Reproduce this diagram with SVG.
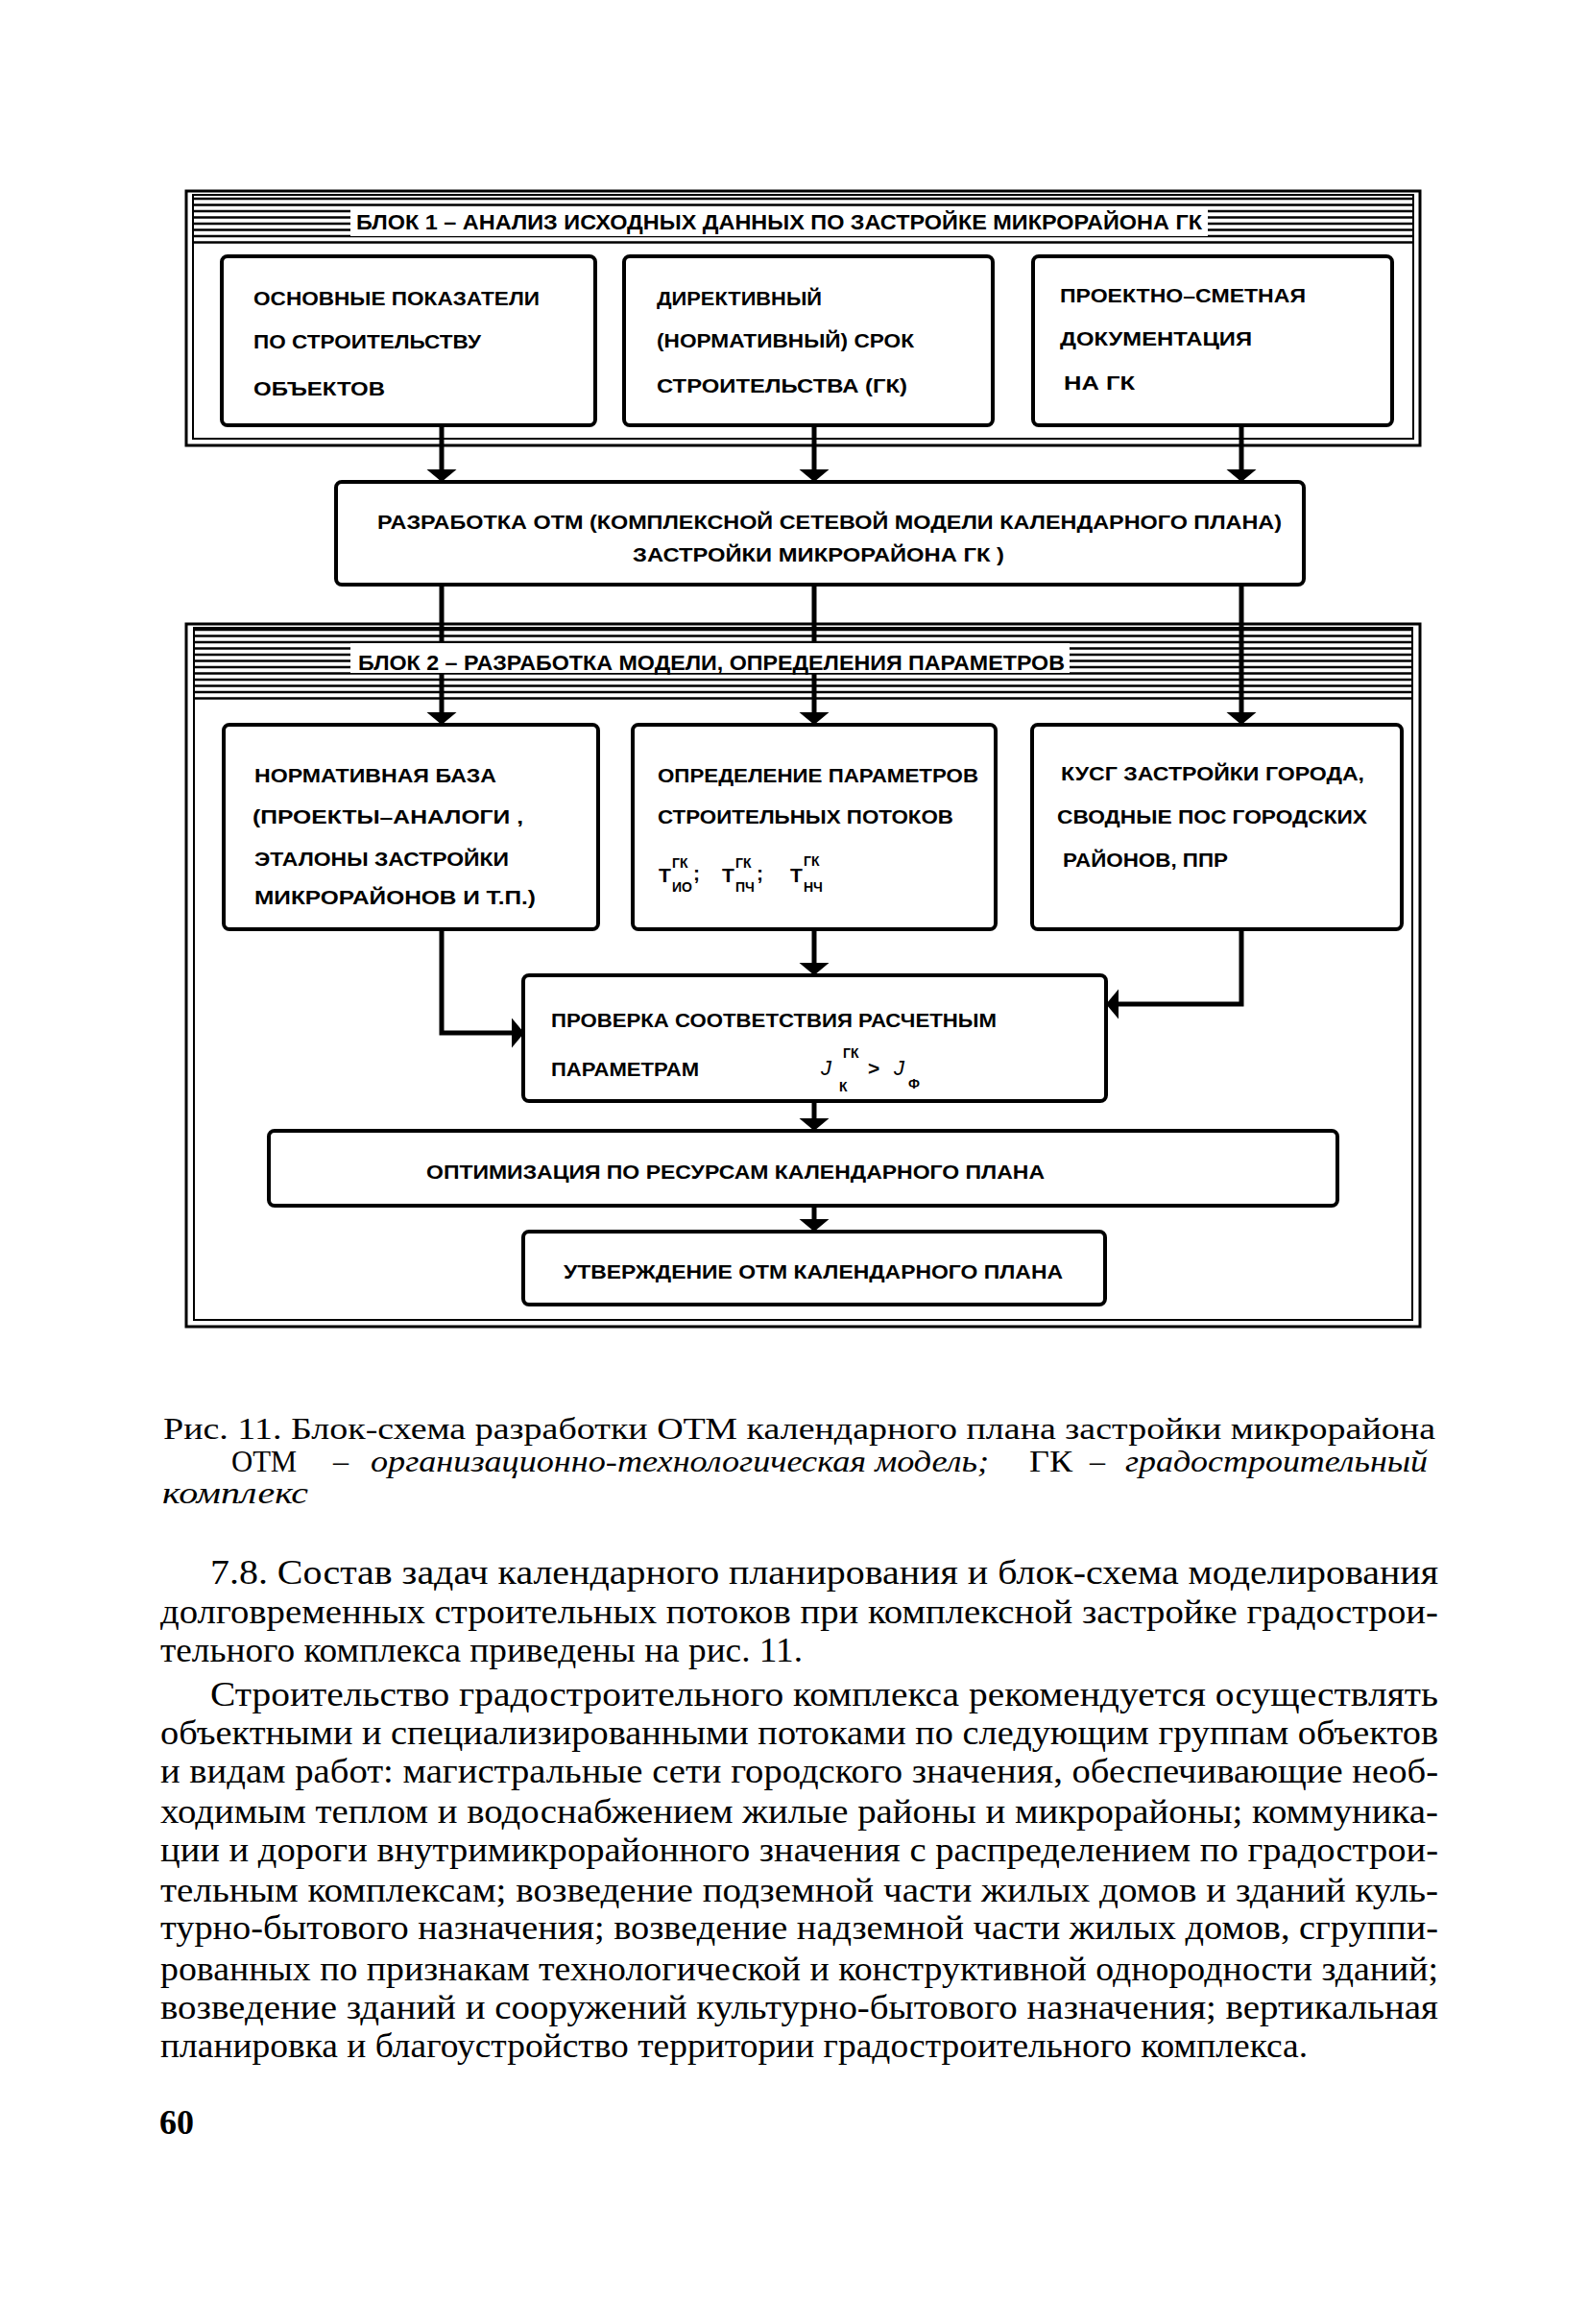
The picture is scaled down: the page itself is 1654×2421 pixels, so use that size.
<svg xmlns="http://www.w3.org/2000/svg" width="1654" height="2421" viewBox="0 0 1654 2421">
<style>
.bg{fill:#fff}
.frame{fill:none;stroke:#000;stroke-width:3}
.frame2{fill:none;stroke:#000;stroke-width:2}
.hatch line{stroke:#000;stroke-width:2.6}
.box{fill:#fff;stroke:#000;stroke-width:4}
.conn{fill:none;stroke:#000;stroke-width:5}
.t{font-family:"Liberation Sans",Arial,sans-serif;font-weight:bold;font-size:21px;fill:#000}
.hd{font-family:"Liberation Sans",Arial,sans-serif;font-weight:bold;font-size:22px;fill:#000}
.sm{font-family:"Liberation Sans",Arial,sans-serif;font-weight:bold;font-size:14px;fill:#000}
.mi{font-family:"Liberation Sans",Arial,sans-serif;font-style:italic;font-size:22px;fill:#000}
.body{font-family:"Liberation Serif","Times New Roman",serif;font-size:35px;fill:#000}
.cap{font-family:"Liberation Serif","Times New Roman",serif;font-size:32px;fill:#000}
.it{font-style:italic}
.pg{font-family:"Liberation Serif","Times New Roman",serif;font-size:36px;font-weight:bold;fill:#000}
</style>
<defs>
<marker id="arr" markerUnits="userSpaceOnUse" markerWidth="14" markerHeight="32" refX="10" refY="15.5" orient="auto">
<path d="M0,0 L13,15.5 L0,31 Z" fill="#000"/>
</marker>
</defs>
<rect class="bg" x="0" y="0" width="1654" height="2421"/>

<g id="block1-frame">
<rect class="frame" x="194" y="199" width="1285" height="265"/>
<rect class="frame2" x="201" y="203" width="1271" height="254"/>
<g class="hatch">
<line x1="202" y1="207" x2="1471" y2="207"/>
<line x1="202" y1="213.5" x2="1471" y2="213.5"/>
<line x1="202" y1="220" x2="1471" y2="220"/>
<line x1="202" y1="226.5" x2="1471" y2="226.5"/>
<line x1="202" y1="233" x2="1471" y2="233"/>
<line x1="202" y1="239.5" x2="1471" y2="239.5"/>
<line x1="202" y1="246" x2="1471" y2="246"/>
<line x1="202" y1="252.5" x2="1471" y2="252.5"/>
</g>
</g>

<g id="block2-frame">
<rect class="frame" x="194" y="650" width="1285" height="732"/>
<rect class="frame2" x="202" y="654" width="1269" height="721"/>
<g class="hatch">
<line x1="202" y1="656" x2="1471" y2="656"/>
<line x1="202" y1="662.5" x2="1471" y2="662.5"/>
<line x1="202" y1="669" x2="1471" y2="669"/>
<line x1="202" y1="675.5" x2="1471" y2="675.5"/>
<line x1="202" y1="682" x2="1471" y2="682"/>
<line x1="202" y1="688.5" x2="1471" y2="688.5"/>
<line x1="202" y1="695" x2="1471" y2="695"/>
<line x1="202" y1="701.5" x2="1471" y2="701.5"/>
<line x1="202" y1="708" x2="1471" y2="708"/>
<line x1="202" y1="714.5" x2="1471" y2="714.5"/>
<line x1="202" y1="721" x2="1471" y2="721"/>
<line x1="202" y1="727.5" x2="1471" y2="727.5"/>
</g>
</g>

<g id="connectors">
<path class="conn" d="M460,443 V499" marker-end="url(#arr)"/>
<path class="conn" d="M848,443 V499" marker-end="url(#arr)"/>
<path class="conn" d="M1293,443 V499" marker-end="url(#arr)"/>
<path class="conn" d="M460,609 V752" marker-end="url(#arr)"/>
<path class="conn" d="M848,609 V752" marker-end="url(#arr)"/>
<path class="conn" d="M1293,609 V752" marker-end="url(#arr)"/>
<path class="conn" d="M460,968 V1076 H543" marker-end="url(#arr)"/>
<path class="conn" d="M848,968 V1013" marker-end="url(#arr)"/>
<path class="conn" d="M1293,968 V1046 H1155" marker-end="url(#arr)"/>
<path class="conn" d="M848,1147 V1175" marker-end="url(#arr)"/>
<path class="conn" d="M848,1256 V1280" marker-end="url(#arr)"/>
</g>

<g id="header1">
<rect class="bg" x="365" y="217" width="893" height="29"/>
<text class="hd" x="371" y="239" textLength="881" lengthAdjust="spacingAndGlyphs">БЛОК 1 – АНАЛИЗ ИСХОДНЫХ ДАННЫХ ПО ЗАСТРОЙКЕ МИКРОРАЙОНА ГК</text>
</g>

<g id="header2">
<rect class="bg" x="365" y="670" width="749" height="31"/>
<text class="hd" x="373" y="698" textLength="736" lengthAdjust="spacingAndGlyphs">БЛОК 2 – РАЗРАБОТКА МОДЕЛИ, ОПРЕДЕЛЕНИЯ ПАРАМЕТРОВ</text>
</g>

<g id="box-a">
<rect class="box" x="231" y="267" width="389" height="176" rx="6"/>
<text class="t" x="264" y="318" textLength="298" lengthAdjust="spacingAndGlyphs">ОСНОВНЫЕ ПОКАЗАТЕЛИ</text>
<text class="t" x="264" y="363" textLength="237" lengthAdjust="spacingAndGlyphs">ПО СТРОИТЕЛЬСТВУ</text>
<text class="t" x="264" y="412" textLength="137" lengthAdjust="spacingAndGlyphs">ОБЪЕКТОВ</text>
</g>

<g id="box-b">
<rect class="box" x="650" y="267" width="384" height="176" rx="6"/>
<text class="t" x="684" y="318" textLength="172" lengthAdjust="spacingAndGlyphs">ДИРЕКТИВНЫЙ</text>
<text class="t" x="684" y="362" textLength="268" lengthAdjust="spacingAndGlyphs">(НОРМАТИВНЫЙ) СРОК</text>
<text class="t" x="684" y="409" textLength="261" lengthAdjust="spacingAndGlyphs">СТРОИТЕЛЬСТВА (ГК)</text>
</g>

<g id="box-c">
<rect class="box" x="1076" y="267" width="374" height="176" rx="6"/>
<text class="t" x="1104" y="315" textLength="256" lengthAdjust="spacingAndGlyphs">ПРОЕКТНО–СМЕТНАЯ</text>
<text class="t" x="1104" y="360" textLength="200" lengthAdjust="spacingAndGlyphs">ДОКУМЕНТАЦИЯ</text>
<text class="t" x="1108" y="406" textLength="74" lengthAdjust="spacingAndGlyphs">НА ГК</text>
</g>

<g id="box-m">
<rect class="box" x="350" y="502" width="1008" height="107" rx="6"/>
<text class="t" x="393" y="551" textLength="942" lengthAdjust="spacingAndGlyphs">РАЗРАБОТКА ОТМ (КОМПЛЕКСНОЙ СЕТЕВОЙ МОДЕЛИ КАЛЕНДАРНОГО ПЛАНА)</text>
<text class="t" x="659" y="585" textLength="387" lengthAdjust="spacingAndGlyphs">ЗАСТРОЙКИ МИКРОРАЙОНА ГК )</text>
</g>

<g id="box-d">
<rect class="box" x="233" y="755" width="390" height="213" rx="6"/>
<text class="t" x="265" y="815" textLength="252" lengthAdjust="spacingAndGlyphs">НОРМАТИВНАЯ БАЗА</text>
<text class="t" x="263" y="858" textLength="282" lengthAdjust="spacingAndGlyphs">(ПРОЕКТЫ–АНАЛОГИ ,</text>
<text class="t" x="265" y="902" textLength="265" lengthAdjust="spacingAndGlyphs">ЭТАЛОНЫ ЗАСТРОЙКИ</text>
<text class="t" x="265" y="942" textLength="293" lengthAdjust="spacingAndGlyphs">МИКРОРАЙОНОВ И Т.П.)</text>
</g>

<g id="box-e">
<rect class="box" x="659" y="755" width="378" height="213" rx="6"/>
<text class="t" x="685" y="815" textLength="334" lengthAdjust="spacingAndGlyphs">ОПРЕДЕЛЕНИЕ ПАРАМЕТРОВ</text>
<text class="t" x="685" y="858" textLength="308" lengthAdjust="spacingAndGlyphs">СТРОИТЕЛЬНЫХ ПОТОКОВ</text>
<text class="t" x="686" y="919">Т</text>
<text class="sm" x="700" y="904">ГК</text>
<text class="sm" x="700" y="929">ИО</text>
<text class="t" x="722" y="917">;</text>
<text class="t" x="752" y="919">Т</text>
<text class="sm" x="766" y="904">ГК</text>
<text class="sm" x="766" y="929">ПЧ</text>
<text class="t" x="788" y="917">;</text>
<text class="t" x="823" y="919">Т</text>
<text class="sm" x="837" y="902">ГК</text>
<text class="sm" x="837" y="929">НЧ</text>
</g>

<g id="box-f">
<rect class="box" x="1075" y="755" width="385" height="213" rx="6"/>
<text class="t" x="1105" y="813" textLength="316" lengthAdjust="spacingAndGlyphs">КУСГ ЗАСТРОЙКИ ГОРОДА,</text>
<text class="t" x="1101" y="858" textLength="323" lengthAdjust="spacingAndGlyphs">СВОДНЫЕ ПОС ГОРОДСКИХ</text>
<text class="t" x="1107" y="903" textLength="172" lengthAdjust="spacingAndGlyphs">РАЙОНОВ, ППР</text>
</g>

<g id="box-g">
<rect class="box" x="545" y="1016" width="607" height="131" rx="6"/>
<text class="t" x="574" y="1070" textLength="464" lengthAdjust="spacingAndGlyphs">ПРОВЕРКА СООТВЕТСТВИЯ РАСЧЕТНЫМ</text>
<text class="t" x="574" y="1121" textLength="154" lengthAdjust="spacingAndGlyphs">ПАРАМЕТРАМ</text>
<text class="mi" x="855" y="1120">J</text>
<text class="sm" x="878" y="1102">ГК</text>
<text class="sm" x="874" y="1137">К</text>
<text class="t" x="904" y="1120">&gt;</text>
<text class="mi" x="931" y="1120">J</text>
<text class="sm" x="946" y="1134">Ф</text>
</g>

<g id="box-o">
<rect class="box" x="280" y="1178" width="1113" height="78" rx="6"/>
<text class="t" x="444" y="1228" textLength="644" lengthAdjust="spacingAndGlyphs">ОПТИМИЗАЦИЯ ПО РЕСУРСАМ КАЛЕНДАРНОГО ПЛАНА</text>
</g>

<g id="box-u">
<rect class="box" x="545" y="1283" width="606" height="76" rx="6"/>
<text class="t" x="587" y="1332" textLength="520" lengthAdjust="spacingAndGlyphs">УТВЕРЖДЕНИЕ ОТМ КАЛЕНДАРНОГО ПЛАНА</text>
</g>

<g id="caption">
<text class="cap" x="170" y="1499" textLength="1325" lengthAdjust="spacingAndGlyphs">Рис. 11. Блок-схема разработки ОТМ календарного плана застройки микрорайона</text>
<text class="cap" x="241" y="1533" textLength="68" lengthAdjust="spacingAndGlyphs">ОТМ</text>
<text class="cap" x="347" y="1533">–</text>
<text class="cap it" x="386" y="1533" textLength="644" lengthAdjust="spacingAndGlyphs">организационно-технологическая модель;</text>
<text class="cap" x="1072" y="1533" textLength="45" lengthAdjust="spacingAndGlyphs">ГК</text>
<text class="cap" x="1135" y="1533">–</text>
<text class="cap it" x="1172" y="1533" textLength="315" lengthAdjust="spacingAndGlyphs">градостроительный</text>
<text class="cap it" x="169" y="1566" textLength="152" lengthAdjust="spacingAndGlyphs">комплекс</text>
</g>

<g id="body-text">
<text class="body" x="219" y="1650" textLength="1279" lengthAdjust="spacingAndGlyphs">7.8. Состав задач календарного планирования и блок-схема моделирования</text>
<text class="body" x="167" y="1691" textLength="1331" lengthAdjust="spacingAndGlyphs">долговременных строительных потоков при комплексной застройке градострои-</text>
<text class="body" x="167" y="1731" textLength="669" lengthAdjust="spacingAndGlyphs">тельного комплекса приведены на рис. 11.</text>
<text class="body" x="219" y="1777" textLength="1279" lengthAdjust="spacingAndGlyphs">Строительство градостроительного комплекса рекомендуется осуществлять</text>
<text class="body" x="167" y="1817" textLength="1331" lengthAdjust="spacingAndGlyphs">объектными и специализированными потоками по следующим группам объектов</text>
<text class="body" x="167" y="1857" textLength="1331" lengthAdjust="spacingAndGlyphs">и видам работ: магистральные сети городского значения, обеспечивающие необ-</text>
<text class="body" x="167" y="1899" textLength="1331" lengthAdjust="spacingAndGlyphs">ходимым теплом и водоснабжением жилые районы и микрорайоны; коммуника-</text>
<text class="body" x="167" y="1939" textLength="1331" lengthAdjust="spacingAndGlyphs">ции и дороги внутримикрорайонного значения с распределением по градострои-</text>
<text class="body" x="167" y="1981" textLength="1331" lengthAdjust="spacingAndGlyphs">тельным комплексам; возведение подземной части жилых домов и зданий куль-</text>
<text class="body" x="167" y="2020" textLength="1331" lengthAdjust="spacingAndGlyphs">турно-бытового назначения; возведение надземной части жилых домов, сгруппи-</text>
<text class="body" x="167" y="2063" textLength="1331" lengthAdjust="spacingAndGlyphs">рованных по признакам технологической и конструктивной однородности зданий;</text>
<text class="body" x="167" y="2103" textLength="1331" lengthAdjust="spacingAndGlyphs">возведение зданий и сооружений культурно-бытового назначения; вертикальная</text>
<text class="body" x="167" y="2143" textLength="1195" lengthAdjust="spacingAndGlyphs">планировка и благоустройство территории градостроительного комплекса.</text>
</g>

<text class="pg" x="166" y="2223">60</text>
</svg>
